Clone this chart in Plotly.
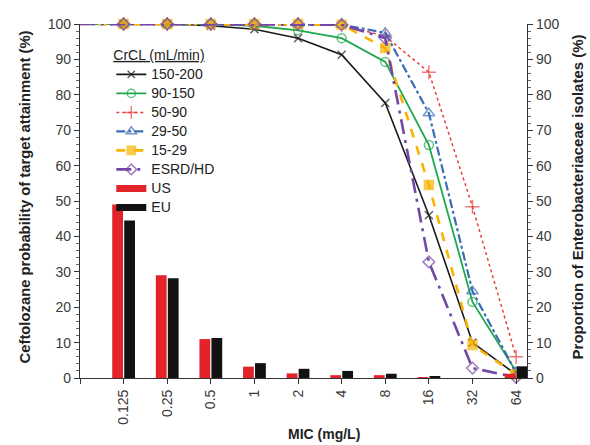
import plotly.graph_objects as go

# MIC categories (first one is the unlabelled start point at the axis edge)
mic_labels = ["0.06", "0.125", "0.25", "0.5", "1", "2", "4", "8", "16", "32", "64"]
tick_text = ["", "0.125", "0.25", "0.5", "1", "2", "4", "8", "16", "32", "64"]

# Probability of target attainment (%) by CrCL group
pta_150_200 = [100, 100, 100, 99.5, 98.5, 96, 91.3, 77.7, 46, 10, 1]
pta_90_150 = [100, 100, 100, 100, 99.5, 98.2, 96, 89.3, 65.8, 21.5, 1.8]
pta_50_90 = [100, 100, 100, 100, 100, 100, 99.8, 96.5, 86.4, 48.4, 6]
pta_29_50 = [100, 100, 100, 100, 100, 100, 99.8, 97.5, 74.8, 24.5, 1.5]
pta_15_29 = [100, 100, 100, 100, 100, 100, 99.8, 93.2, 54.5, 9.3, 1]
pta_esrd = [100, 100, 100, 100, 100, 100, 99.8, 96, 32.8, 2.8, 0.2]

# Proportion of Enterobacteriaceae isolates (%) at MIC 0.125 .. 64
us_iso = [49, 29, 11, 3.2, 1.3, 0.8, 0.8, 0.1, 0, 1.2]
eu_iso = [44.5, 28.2, 11.3, 4.2, 2.6, 2.0, 1.2, 0.4, 0, 3.3]

x_all = list(range(len(mic_labels)))
x_bars = x_all[1:]

series = [
    ("150-200", pta_150_200, "#1a1a1a", "solid", 1.6, "x-thin-open", 8),
    ("90-150", pta_90_150, "#1ea84e", "solid", 1.8, "circle-open", 9),
    ("50-90", pta_50_90, "#e8413c", "dot", 1.5, "cross-thin-open", 10),
    ("29-50", pta_29_50, "#3a6db5", "dashdot", 2.2, "triangle-up-open", 10),
    ("15-29", pta_15_29, "#f8b400", "dash", 2.6, "square", 9),
    ("ESRD/HD", pta_esrd, "#7346a8", "longdashdot", 2.6, "diamond-open", 9),
]

LEG_SPAN = "<span style='font-size:14px'>{}</span>"

fig = go.Figure()

fig.add_trace(go.Bar(x=x_bars, y=us_iso, name="US", marker_color="#e3232a",
                     marker_line_width=0, yaxis="y2", showlegend=False))
fig.add_trace(go.Bar(x=x_bars, y=eu_iso, name="EU", marker_color="#121212",
                     marker_line_width=0, yaxis="y2", showlegend=False))

for name, vals, col, dash, w, sym, sz in series:
    sizes = [0] + [sz] * (len(vals) - 1)
    fig.add_trace(go.Scatter(
        x=x_all, y=vals, name=LEG_SPAN.format(name), mode="lines+markers",
        line=dict(color=col, dash=dash, width=w),
        marker=dict(symbol=sym, size=sizes, color=col,
                    line=dict(color=col, width=1.5)),
        cliponaxis=False,
    ))

# legend-only entries for the bar series (thick line symbols as in the reference)
fig.add_trace(go.Scatter(x=[None], y=[None], name=LEG_SPAN.format("US"), mode="lines",
                         line=dict(color="#e3232a", width=7)))
fig.add_trace(go.Scatter(x=[None], y=[None], name=LEG_SPAN.format("EU"), mode="lines",
                         line=dict(color="#121212", width=7)))

font_family = "Liberation Sans, Arial, sans-serif"
tick_font = dict(family=font_family, size=14, color="#3a3a3a")

fig.update_layout(
    width=590, height=445,
    margin=dict(l=80, r=63, t=24, b=67),
    paper_bgcolor="white", plot_bgcolor="white",
    barmode="group", bargap=0.45, bargroupgap=0.1,
    font=dict(family=font_family, color="#222"),
    xaxis=dict(
        range=[0, 10.25], tickmode="array", tickvals=x_all, ticktext=tick_text,
        tickangle=-90, tickfont=tick_font, showline=True, linecolor="#333",
        linewidth=1.2, ticks="outside", ticklen=5, tickcolor="#333",
        showgrid=False, zeroline=False,
    ),
    yaxis=dict(
        range=[0, 100], dtick=10, tickfont=tick_font, showline=True,
        linecolor="#333", linewidth=1.2, ticks="outside", ticklen=5,
        tickcolor="#333", showgrid=False, zeroline=False,
        minor=dict(dtick=2, ticks="outside", ticklen=3, tickcolor="#666"),
    ),
    yaxis2=dict(
        range=[0, 100], dtick=10, overlaying="y", side="right",
        tickfont=tick_font, showline=True, linecolor="#333", linewidth=1.2,
        ticks="outside", ticklen=5, tickcolor="#333", showgrid=False,
        zeroline=False,
        minor=dict(dtick=2, ticks="outside", ticklen=3, tickcolor="#666"),
    ),
    legend=dict(
        x=0.07, y=0.95, xanchor="left", yanchor="top",
        bgcolor="rgba(0,0,0,0)", font=dict(family=font_family, size=12, color="#222"),
        title=dict(text="<u>CrCL (mL/min)</u>", font=dict(family=font_family, size=14, color="#222")),
        tracegroupgap=0, itemwidth=30,
    ),
    annotations=[
        dict(text="<b>Ceftolozane probability of target attainment (%)</b>",
             xref="paper", yref="paper", x=0, y=0.51, xanchor="center", xshift=-55,
             textangle=-90, showarrow=False,
             font=dict(family=font_family, size=14.8, color="#222")),
        dict(text="<b>Proportion of Enterobacteriaceae isolates (%)</b>",
             xref="paper", yref="paper", x=1, y=0.51, xanchor="center", xshift=50,
             textangle=-90, showarrow=False,
             font=dict(family=font_family, size=15, color="#222")),
        dict(text="<b>MIC (mg/L)</b>", xref="paper", yref="paper",
             x=0.545, y=0, yanchor="top", yshift=-46, showarrow=False,
             font=dict(family=font_family, size=14, color="#222")),
    ],
)

fig.write_html("out.html")
